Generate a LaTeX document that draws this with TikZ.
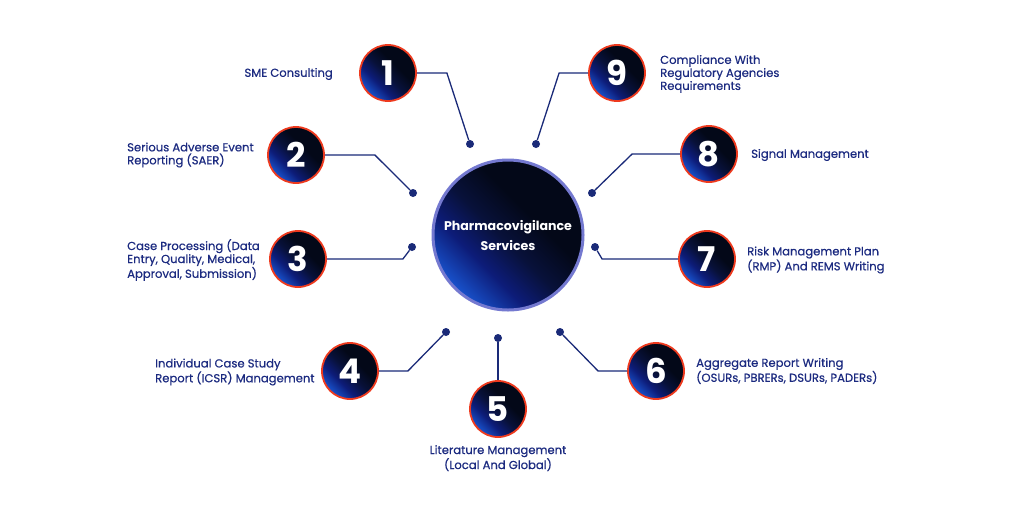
\documentclass[tikz,border=0pt]{standalone}
\usepackage{fontspec}
\setmainfont{Poppins}
\newfontfamily\lblfont{Poppins}[FakeBold=0.5]
\definecolor{txtnavy}{HTML}{1B2A80}
\definecolor{linknavy}{HTML}{1A2A78}
\definecolor{ringred}{HTML}{EE3A1E}
\definecolor{hubring}{HTML}{7479D0}
\definecolor{fillblack}{HTML}{030818}
\definecolor{fillmid}{HTML}{08113A}
\definecolor{fillnavy}{HTML}{0D1C78}
\definecolor{fillblue}{HTML}{1852CC}
\pgfdeclareverticalshading{discfill}{100bp}{color(0bp)=(fillblue); color(25bp)=(fillblue);
  color(37bp)=(fillnavy); color(48bp)=(fillmid); color(60bp)=(fillblack); color(100bp)=(fillblack)}
\begin{document}
\begin{tikzpicture}[x=1pt,y=-1pt,
  num/.style={circle,minimum size=56pt,inner sep=0pt,draw=ringred,line width=1.8pt,
    shading=discfill,shading angle=-45,
    text=white,font=\bfseries\fontsize{34}{34}\selectfont},
  hub/.style={circle,minimum size=150pt,inner sep=0pt,draw=hubring,line width=3pt,
    shading=discfill,shading angle=-45,
    text=white,align=center,font=\bfseries\fontsize{12.6}{20}\selectfont},
  dot/.style={circle,fill=linknavy,inner sep=0pt,minimum size=8pt},
  link/.style={draw=linknavy,line width=1.3pt},
  lbl/.style={text=txtnavy,align=left,inner sep=0pt,font=\lblfont\fontsize{11.6}{13}\selectfont},
  ]
\useasboundingbox (0,0) rectangle (1024,515);
\fill[white] (0,0) rectangle (1024,515);

% centre
\node[hub] (hub) at (508,235) {Pharmacovigilance\\Services};

% numbered circles
\node[num] (n1) at (388,73) {1};
\node[num] (n2) at (296,155) {2};
\node[num] (n3) at (298,259) {3};
\node[num] (n4) at (350,371) {4};
\node[num] (n5) at (498,409) {5};
\node[num] (n6) at (656,371) {6};
\node[num] (n7) at (707,259) {7};
\node[num] (n8) at (709,154) {8};
\node[num] (n9) at (617,73) {9};

% end dots
\node[dot] (d1) at (470,144) {};
\node[dot] (d2) at (413,193) {};
\node[dot] (d3) at (412,247) {};
\node[dot] (d4) at (446,332) {};
\node[dot] (d5) at (498,338) {};
\node[dot] (d6) at (560,332) {};
\node[dot] (d7) at (595,247) {};
\node[dot] (d8) at (592,193) {};
\node[dot] (d9) at (536,144) {};

% connectors
\draw[link] (n1.east) -- ++(30,0) -- (d1);
\draw[link] (n2.east) -- ++(50,0) -- (d2);
\draw[link] (n3.east) -- ++(76,0) -- (d3);
\draw[link] (n4.east) -- ++(29,0) -- (d4);
\draw[link] (n5.north) -- (d5);
\draw[link] (n6.west) -- ++(-29,0) -- (d6);
\draw[link] (n7.west) -- ++(-76,0) -- (d7);
\draw[link] (n8.west) -- ++(-48,0) -- (d8);
\draw[link] (n9.west) -- ++(-29,0) -- (d9);

% labels
\node[lbl,anchor=east] (t1) at (333,74) {SME Consulting};
\node[lbl,anchor=west] (t2) at (127,155) {Serious Adverse Event\\Reporting (SAER)};
\node[lbl,anchor=west] (t3) at (127,260) {Case Processing (Data\\Entry, Quality, Medical,\\Approval, Submission)};
\node[lbl,anchor=west] (t4) at (155,372) {Individual Case Study\\Report (ICSR) Management};
\node[lbl,anchor=north,align=center] (t5) at (498,445) {Literature Management\\(Local And Global)};
\node[lbl,anchor=west] (t6) at (696,371) {Aggregate Report Writing\\(OSURs, PBRERs, DSURs, PADERs)};
\node[lbl,anchor=west] (t7) at (747,260) {Risk Management Plan\\(RMP) And REMS Writing};
\node[lbl,anchor=west] (t8) at (751,155) {Signal Management};
\node[lbl,anchor=west] (t9) at (660,74) {Compliance With\\Regulatory Agencies\\Requirements};
\end{tikzpicture}
\end{document}
